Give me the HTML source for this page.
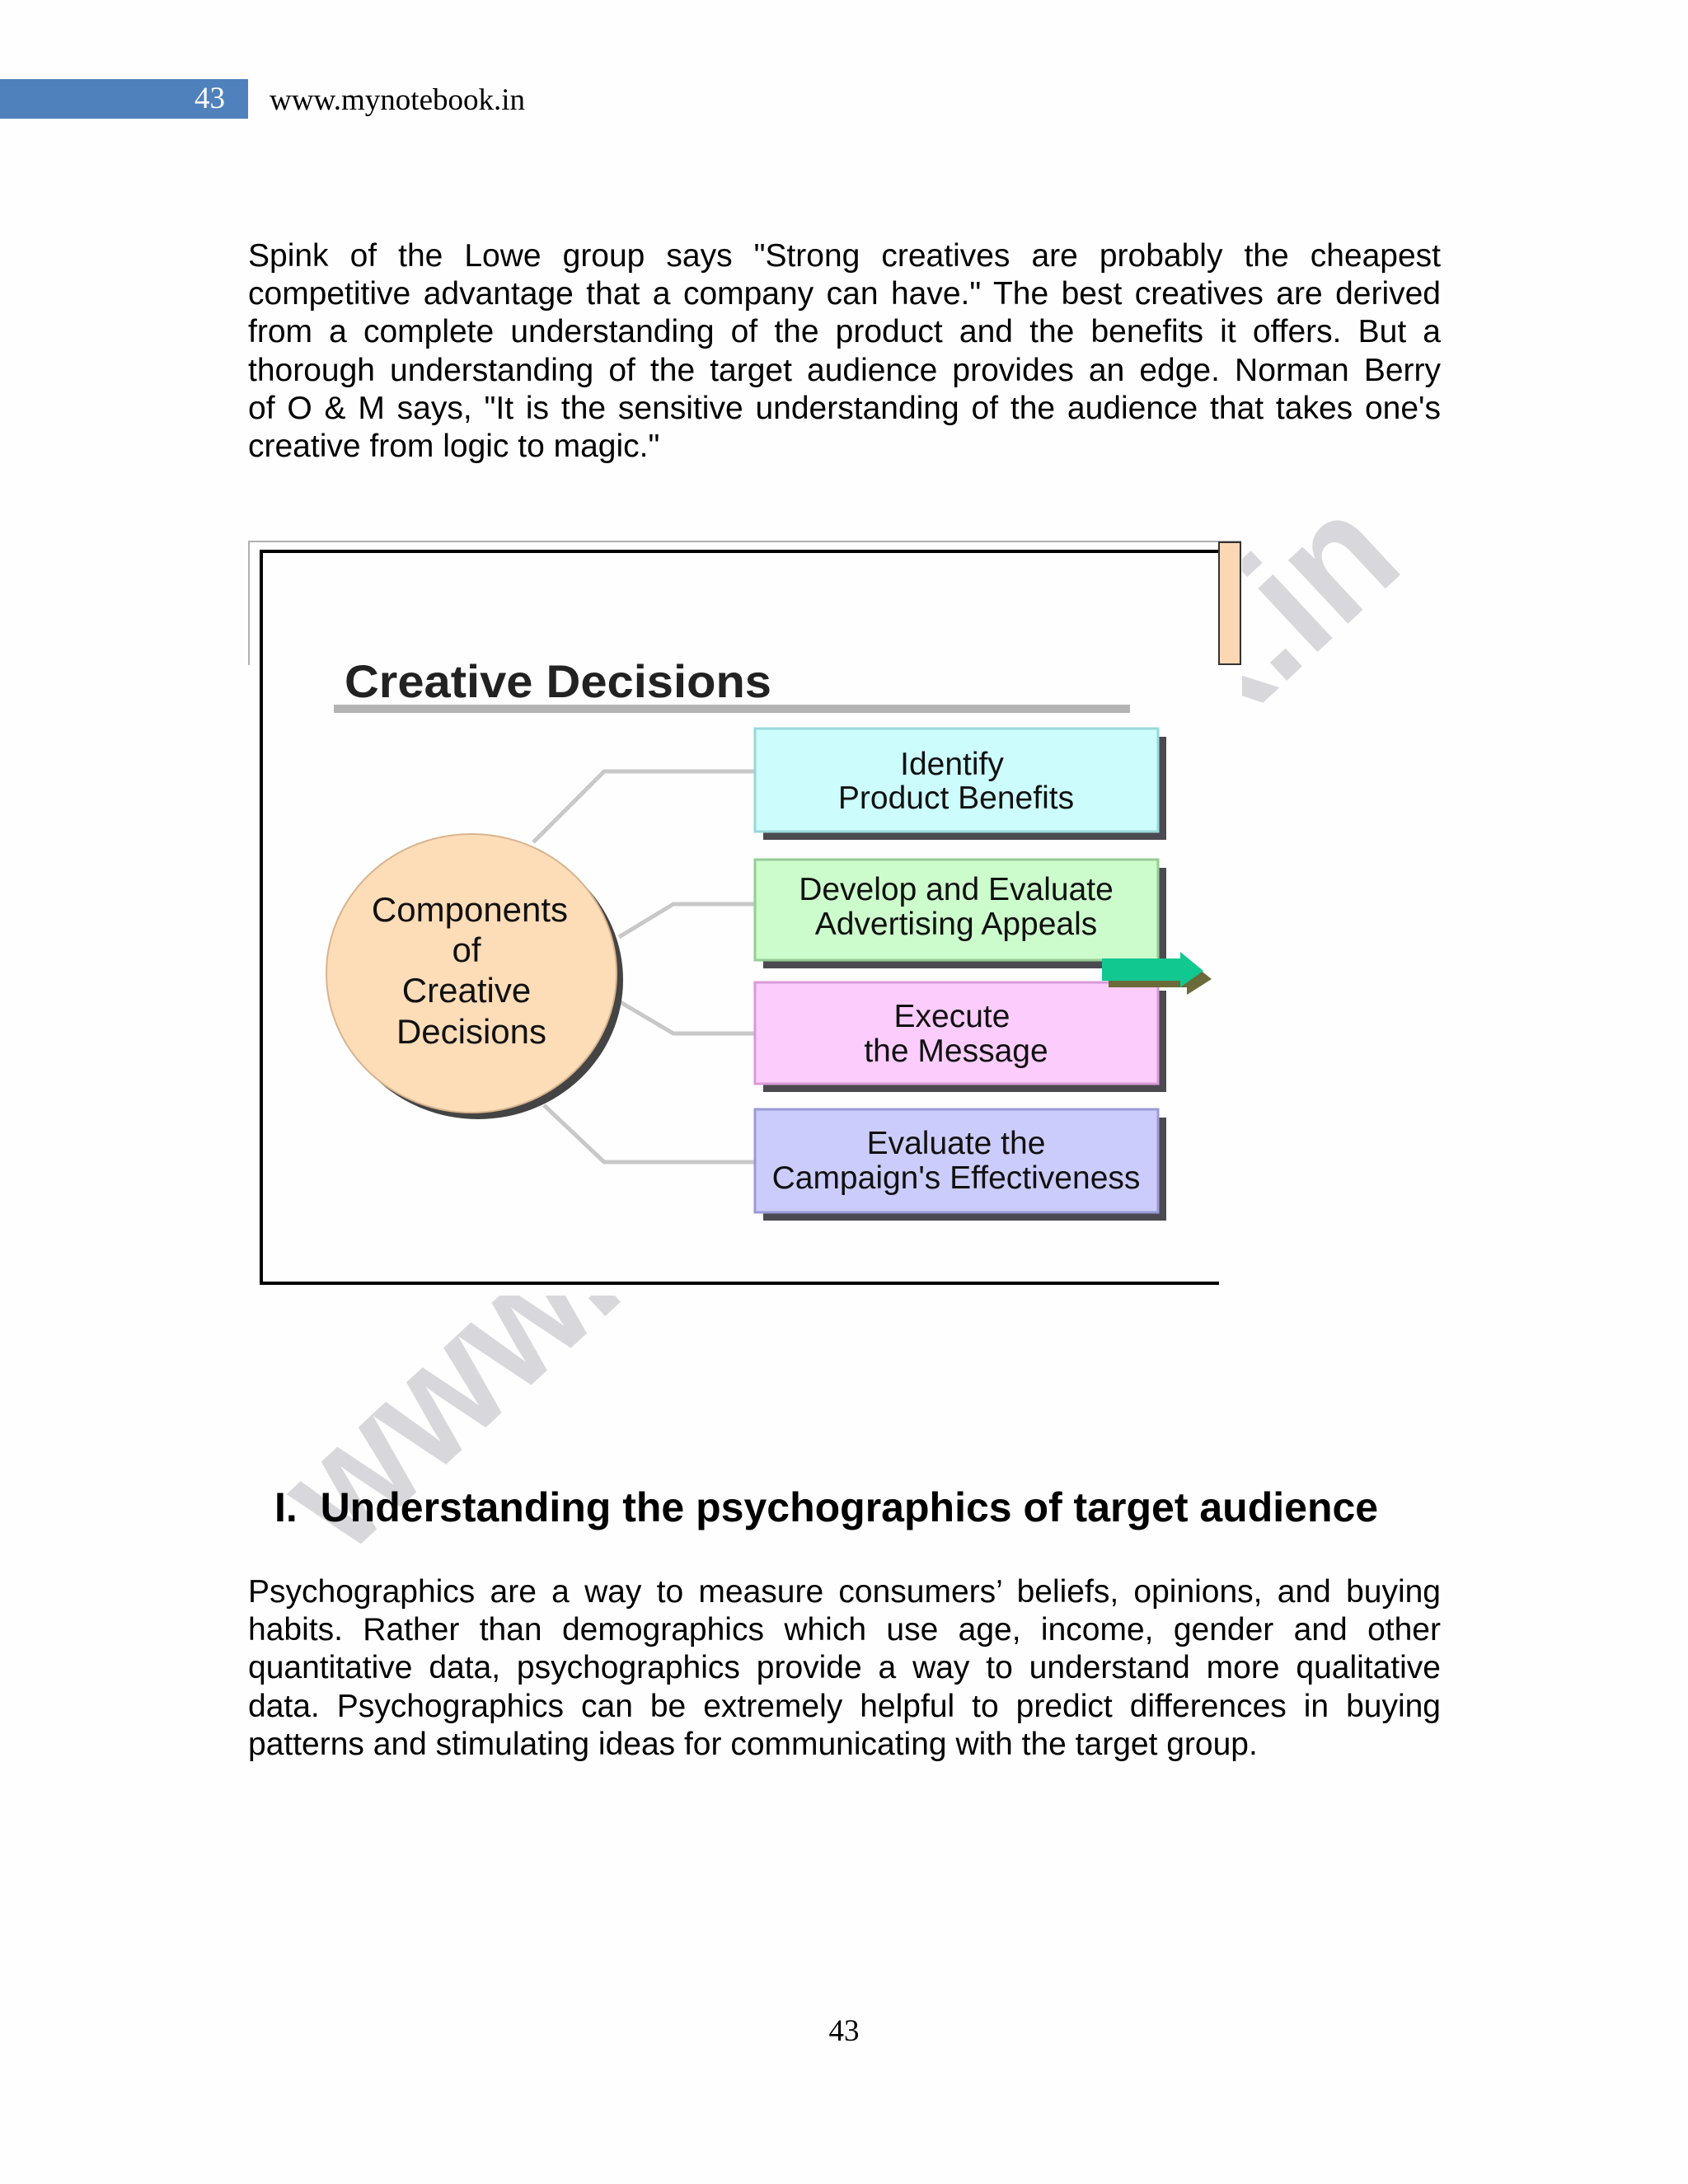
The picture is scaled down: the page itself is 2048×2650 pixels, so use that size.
<!DOCTYPE html>
<html><head><meta charset="utf-8">
<style>
html,body{margin:0;padding:0;background:#fefefe;}
body{width:2048px;height:2650px;position:relative;overflow:hidden;font-family:"Liberation Sans",sans-serif;color:#000;}
.ab{position:absolute;}
.para{position:absolute;left:301px;width:1447px;font-size:39px;}
.para div{position:absolute;left:0;width:1447px;white-space:nowrap;text-align:justify;text-align-last:justify;line-height:46px;}
.para div.last{text-align-last:left;}
</style></head><body>

<div class="ab" style="left:0;top:96px;width:301px;height:48px;background:#4f81bd;"></div>
<div class="ab" style="left:236px;top:96px;font-family:'Liberation Serif',serif;font-size:37px;color:#fff;line-height:48px;">43</div>
<div class="ab" style="left:327px;top:96px;font-family:'Liberation Serif',serif;font-size:37px;line-height:52px;">www.mynotebook.in</div>

<svg class="ab" style="left:0;top:0" width="2048" height="2650" viewBox="0 0 2048 2650">
<text x="420" y="1890" transform="rotate(-43 420 1890)" font-family="Liberation Sans, sans-serif" font-weight="bold" font-size="200" fill="#d8d8dc" textLength="1760" lengthAdjust="spacingAndGlyphs">www.mynotebook.in</text>
<rect x="301" y="657" width="1206" height="915" fill="#fefefe"/>
<line x1="301" y1="657" x2="1506" y2="657" stroke="#b0b0b0" stroke-width="2"/>
<line x1="302" y1="657" x2="302" y2="807" stroke="#b0b0b0" stroke-width="2"/>
<polyline points="1479,669 317,669 317,1557 1479,1557" fill="none" stroke="#000" stroke-width="4"/>
<rect x="1479" y="658" width="26" height="148" fill="#fbd7b6" stroke="#333" stroke-width="2"/>
<text x="418" y="846" font-family="Liberation Sans, sans-serif" font-size="56" font-weight="bold" fill="#222" textLength="518" lengthAdjust="spacingAndGlyphs">Creative Decisions</text>
<rect x="405" y="855" width="966" height="10" fill="#b4b4b4"/>
<g stroke="#c8c8c8" stroke-width="5" fill="none">
<polyline points="647,1022 733,936 916,936"/>
<polyline points="751,1137 817,1097 916,1097"/>
<polyline points="751,1215 817,1254 916,1254"/>
<polyline points="660,1341 733,1410 916,1410"/>
</g>
<ellipse cx="580" cy="1189" rx="176" ry="169" fill="#444"/>
<ellipse cx="572" cy="1181" rx="176" ry="169" fill="#fddcb8" stroke="#d8b48e" stroke-width="2"/>
<g font-family="Liberation Sans, sans-serif" font-size="42" text-anchor="middle" fill="#111">
<text x="570" y="1118">Components</text>
<text x="566" y="1167">of</text>
<text x="566" y="1216">Creative</text>
<text x="572" y="1266">Decisions</text>
</g>
<g>
<rect x="926" y="894" width="489" height="125" fill="#4a4a50"/>
<rect x="916" y="884" width="489" height="125" fill="#ccfcfc" stroke="#9ad8d8" stroke-width="3"/>
<rect x="926" y="1053" width="489" height="122" fill="#4a4a50"/>
<rect x="916" y="1043" width="489" height="122" fill="#ccfccc" stroke="#96cc96" stroke-width="3"/>
<rect x="926" y="1202" width="489" height="123" fill="#4a4a50"/>
<rect x="916" y="1192" width="489" height="123" fill="#fccdfc" stroke="#d89ad8" stroke-width="3"/>
<rect x="926" y="1356" width="489" height="125" fill="#4a4a50"/>
<rect x="916" y="1346" width="489" height="125" fill="#ccccfc" stroke="#9a9ad8" stroke-width="3"/>
</g>
<g font-family="Liberation Sans, sans-serif" font-size="39" text-anchor="middle" fill="#111">
<text x="1155" y="940">Identify</text>
<text x="1160" y="981">Product Benefits</text>
<text x="1160" y="1092">Develop and Evaluate</text>
<text x="1160" y="1134">Advertising Appeals</text>
<text x="1155" y="1246">Execute</text>
<text x="1160" y="1288">the Message</text>
<text x="1160" y="1400">Evaluate the</text>
<text x="1160" y="1442">Campaign's Effectiveness</text>
</g>
<polygon points="1345,1172 1440,1172 1440,1164 1470,1188 1440,1207 1440,1198 1345,1198" fill="#6b6a3a"/>
<polygon points="1337,1163 1432,1163 1432,1155 1460,1178 1432,1198 1432,1190 1337,1190" fill="#10c890"/>
</svg>

<div class="para" style="top:0">
<div style="top:288px">Spink of the Lowe group says "Strong creatives are probably the cheapest</div>
<div style="top:334px">competitive advantage that a company can have." The best creatives are derived</div>
<div style="top:380px">from a complete understanding of the product and the benefits it offers. But a</div>
<div style="top:427px">thorough understanding of the target audience provides an edge. Norman Berry</div>
<div style="top:473px">of O &amp; M says, "It is the sensitive understanding of the audience that takes one's</div>
<div class="last" style="top:519px">creative from logic to magic."</div>
</div>

<div class="ab" style="left:333px;top:1800px;font-size:50px;font-weight:bold;white-space:nowrap;">I.&nbsp; Understanding the psychographics of target audience</div>

<div class="para" style="top:0">
<div style="top:1909px">Psychographics are a way to measure consumers’ beliefs, opinions, and buying</div>
<div style="top:1955px">habits. Rather than demographics which use age, income, gender and other</div>
<div style="top:2001px">quantitative data, psychographics provide a way to understand more qualitative</div>
<div style="top:2048px">data. Psychographics can be extremely helpful to predict differences in buying</div>
<div class="last" style="top:2094px">patterns and stimulating ideas for communicating with the target group.</div>
</div>

<div class="ab" style="left:0;width:2048px;top:2440px;text-align:center;font-family:'Liberation Serif',serif;font-size:37px;line-height:50px;">43</div>
</body></html>
